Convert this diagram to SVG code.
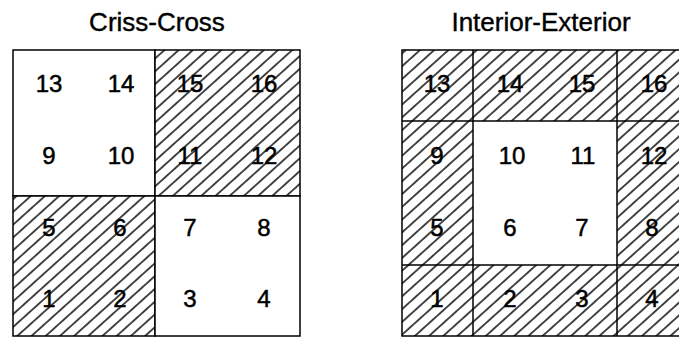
<svg xmlns="http://www.w3.org/2000/svg" width="679" height="339" viewBox="0 0 679 339">
<style>
.title{font-family:"Liberation Sans",Arial,sans-serif;font-size:26px;fill:#000;stroke:#000;stroke-width:0.4;text-anchor:middle}
.num{font-family:"Liberation Sans",Arial,sans-serif;font-size:24px;fill:#000;stroke:#000;stroke-width:0.5;text-anchor:middle}
.cell{stroke:#000;stroke-width:1.5}
.plain{fill:#fff}
.hatch{fill:url(#hatch)}
.grid{stroke:#000;stroke-width:1.5;fill:none}
</style>
<defs>
<pattern id="hatch" patternUnits="userSpaceOnUse" width="40" height="9.5" patternTransform="rotate(-42)">
<rect width="40" height="9.5" fill="#fff"/>
<line x1="-1" y1="4.75" x2="41" y2="4.75" stroke="#000" stroke-width="1.4"/>
</pattern>
</defs>
<rect width="679" height="339" fill="#fff"/>
<text class="title" x="157" y="31">Criss-Cross</text>
<text class="title" x="541" y="31">Interior-Exterior</text>

<g id="criss-cross">
<g id="cc-top-left">
<rect class="cell plain" x="13" y="50" width="142" height="146"/>
<text class="num" x="49" y="92">13</text>
<text class="num" x="121" y="92">14</text>
<text class="num" x="49" y="164">9</text>
<text class="num" x="121" y="164">10</text>
</g>
<g id="cc-top-right">
<rect class="cell hatch" x="155" y="50" width="145" height="146"/>
<text class="num" x="190" y="92">15</text>
<text class="num" x="264" y="92">16</text>
<text class="num" x="190" y="164">11</text>
<text class="num" x="264" y="164">12</text>
</g>
<g id="cc-bottom-left">
<rect class="cell hatch" x="13" y="196" width="142" height="140"/>
<text class="num" x="49" y="236">5</text>
<text class="num" x="120" y="236">6</text>
<text class="num" x="49" y="307">1</text>
<text class="num" x="120" y="307">2</text>
</g>
<g id="cc-bottom-right">
<rect class="cell plain" x="155" y="196" width="145" height="140"/>
<text class="num" x="190" y="236">7</text>
<text class="num" x="264" y="236">8</text>
<text class="num" x="190" y="307">3</text>
<text class="num" x="264" y="307">4</text>
</g>
</g>

<g id="interior-exterior">
<g id="ie-top">
<rect class="hatch" x="402" y="50" width="290" height="71"/>
<text class="num" x="437" y="92">13</text>
<text class="num" x="510" y="92">14</text>
<text class="num" x="582" y="92">15</text>
<text class="num" x="654" y="92">16</text>
</g>
<g id="ie-left">
<rect class="hatch" x="402" y="121" width="71" height="144"/>
<text class="num" x="437" y="164">9</text>
<text class="num" x="437" y="236">5</text>
</g>
<g id="ie-interior">
<rect class="plain" x="473" y="121" width="144" height="144"/>
<text class="num" x="512" y="164">10</text>
<text class="num" x="583" y="164">11</text>
<text class="num" x="510" y="236">6</text>
<text class="num" x="582" y="236">7</text>
</g>
<g id="ie-right">
<rect class="hatch" x="617" y="121" width="75" height="144"/>
<text class="num" x="654" y="164">12</text>
<text class="num" x="652" y="236">8</text>
</g>
<g id="ie-bottom">
<rect class="hatch" x="402" y="265" width="290" height="71"/>
<text class="num" x="437" y="307">1</text>
<text class="num" x="510" y="307">2</text>
<text class="num" x="582" y="307">3</text>
<text class="num" x="652" y="307">4</text>
</g>
<g id="ie-grid" class="grid">
<rect x="402" y="50" width="290" height="286"/>
<line x1="473" y1="50" x2="473" y2="336"/>
<line x1="617" y1="50" x2="617" y2="336"/>
<line x1="402" y1="121" x2="692" y2="121"/>
<line x1="402" y1="265" x2="692" y2="265"/>
</g>
</g>
</svg>
